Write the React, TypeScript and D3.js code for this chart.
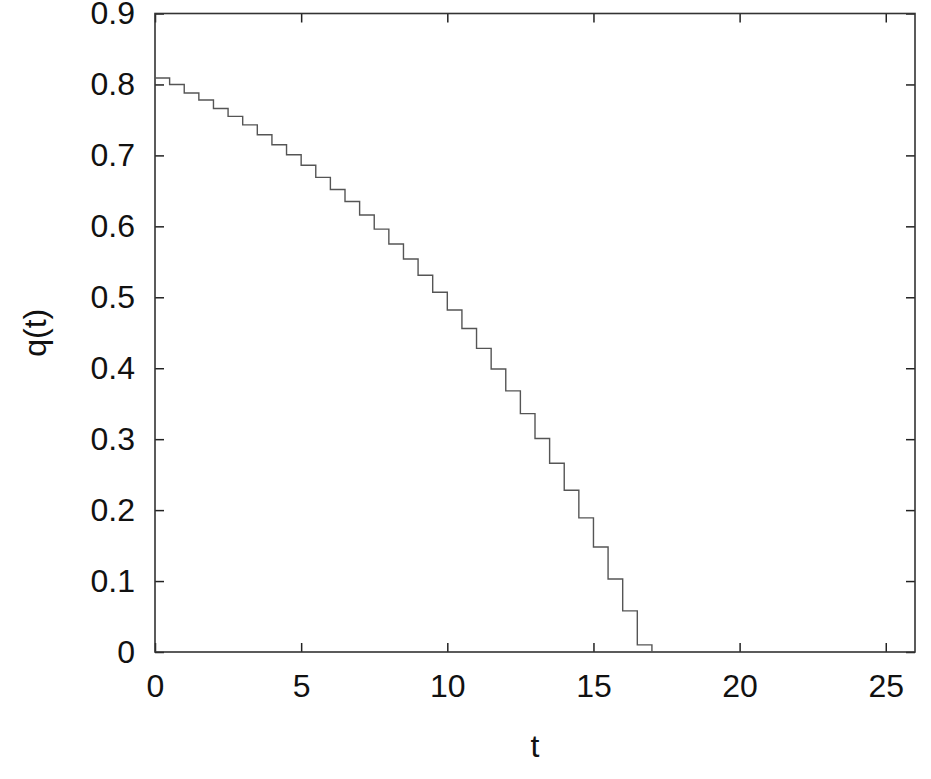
import React, { useEffect, useRef } from "react";
import * as d3 from "d3";

// step values of q(t), each one holds from its t until the next t
const tValues = [0, 0.5, 1, 1.5, 2, 2.5, 3, 3.5, 4, 4.5, 5, 5.5, 6, 6.5, 7, 7.5, 8, 8.5, 9, 9.5, 10, 10.5, 11, 11.5, 12, 12.5, 13, 13.5, 14, 14.5, 15, 15.5, 16, 16.5, 17];
const qValues = [0.809, 0.8, 0.788, 0.778, 0.766, 0.755, 0.743, 0.729, 0.715, 0.701, 0.686, 0.669, 0.652, 0.635, 0.616, 0.596, 0.575, 0.554, 0.531, 0.507, 0.482, 0.456, 0.428, 0.399, 0.368, 0.336, 0.301, 0.266, 0.228, 0.189, 0.148, 0.103, 0.058, 0.01, 0];

const xTicks = [0, 5, 10, 15, 20, 25];
const yTicks = [0, 0.1, 0.2, 0.3, 0.4, 0.5, 0.6, 0.7, 0.8, 0.9];

const W = 931;
const H = 779;
const margin = { left: 155, right: 16, top: 13.5, bottom: 127 };

export default function App() {
  const ref = useRef<SVGSVGElement>(null);

  useEffect(() => {
    const svg = d3.select(ref.current);
    svg.selectAll("*").remove();

    const x = d3.scaleLinear().domain([0, 26]).range([margin.left, W - margin.right]);
    const y = d3.scaleLinear().domain([0, 0.9]).range([H - margin.bottom, margin.top]);
    const font = "'Liberation Sans', Arial, sans-serif";
    const tickLen = 9;

    const g = svg.append("g");

    // inward ticks on bottom/top and left/right, gnuplot style
    g.append("g")
      .attr("transform", `translate(0,${y(0)})`)
      .call(d3.axisBottom(x).tickValues(xTicks).tickSize(-tickLen).tickPadding(22).tickFormat(d3.format("d")))
      .call((a) => a.select(".domain").remove());
    g.append("g")
      .attr("transform", `translate(0,${y(0.9)})`)
      .call(d3.axisTop(x).tickValues(xTicks).tickSize(-tickLen).tickFormat(() => ""))
      .call((a) => a.select(".domain").remove());
    g.append("g")
      .attr("transform", `translate(${x(0)},0)`)
      .call(d3.axisLeft(y).tickValues(yTicks).tickSize(-tickLen).tickPadding(20).tickFormat((d) => (d === 0 ? "0" : d3.format(".1f")(d as number))))
      .call((a) => a.select(".domain").remove());
    g.append("g")
      .attr("transform", `translate(${x(26)},0)`)
      .call(d3.axisRight(y).tickValues(yTicks).tickSize(-tickLen).tickFormat(() => ""))
      .call((a) => a.select(".domain").remove());

    g.selectAll(".tick line").attr("stroke", "#222").attr("stroke-width", 1.5);
    g.selectAll(".tick text").attr("font-family", font).attr("font-size", 32).attr("fill", "#111");

    // frame
    g.append("rect")
      .attr("x", x(0))
      .attr("y", y(0.9))
      .attr("width", x(26) - x(0))
      .attr("height", y(0) - y(0.9))
      .attr("fill", "none")
      .attr("stroke", "#333")
      .attr("stroke-width", 1.6);

    const pts: [number, number][] = tValues.map((t, i) => [t, qValues[i]]);
    const line = d3
      .line<[number, number]>()
      .x((d) => x(d[0]))
      .y((d) => y(d[1]))
      .curve(d3.curveStepAfter);

    g.append("path")
      .attr("d", line(pts))
      .attr("fill", "none")
      .attr("stroke", "#555")
      .attr("stroke-width", 1.4);

    g.append("text")
      .attr("x", (x(0) + x(26)) / 2)
      .attr("y", 757)
      .attr("text-anchor", "middle")
      .attr("font-family", font)
      .attr("font-size", 32)
      .attr("fill", "#111")
      .text("t");

    g.append("text")
      .attr("transform", `translate(46,${(y(0) + y(0.9)) / 2}) rotate(-90)`)
      .attr("text-anchor", "middle")
      .attr("font-family", font)
      .attr("font-size", 32)
      .attr("fill", "#111")
      .text("q(t)");
  }, []);

  return (
    <svg
      ref={ref}
      width={W}
      height={H}
      style={{ position: "absolute", left: 0, top: 0, background: "#fff" }}
    />
  );
}
